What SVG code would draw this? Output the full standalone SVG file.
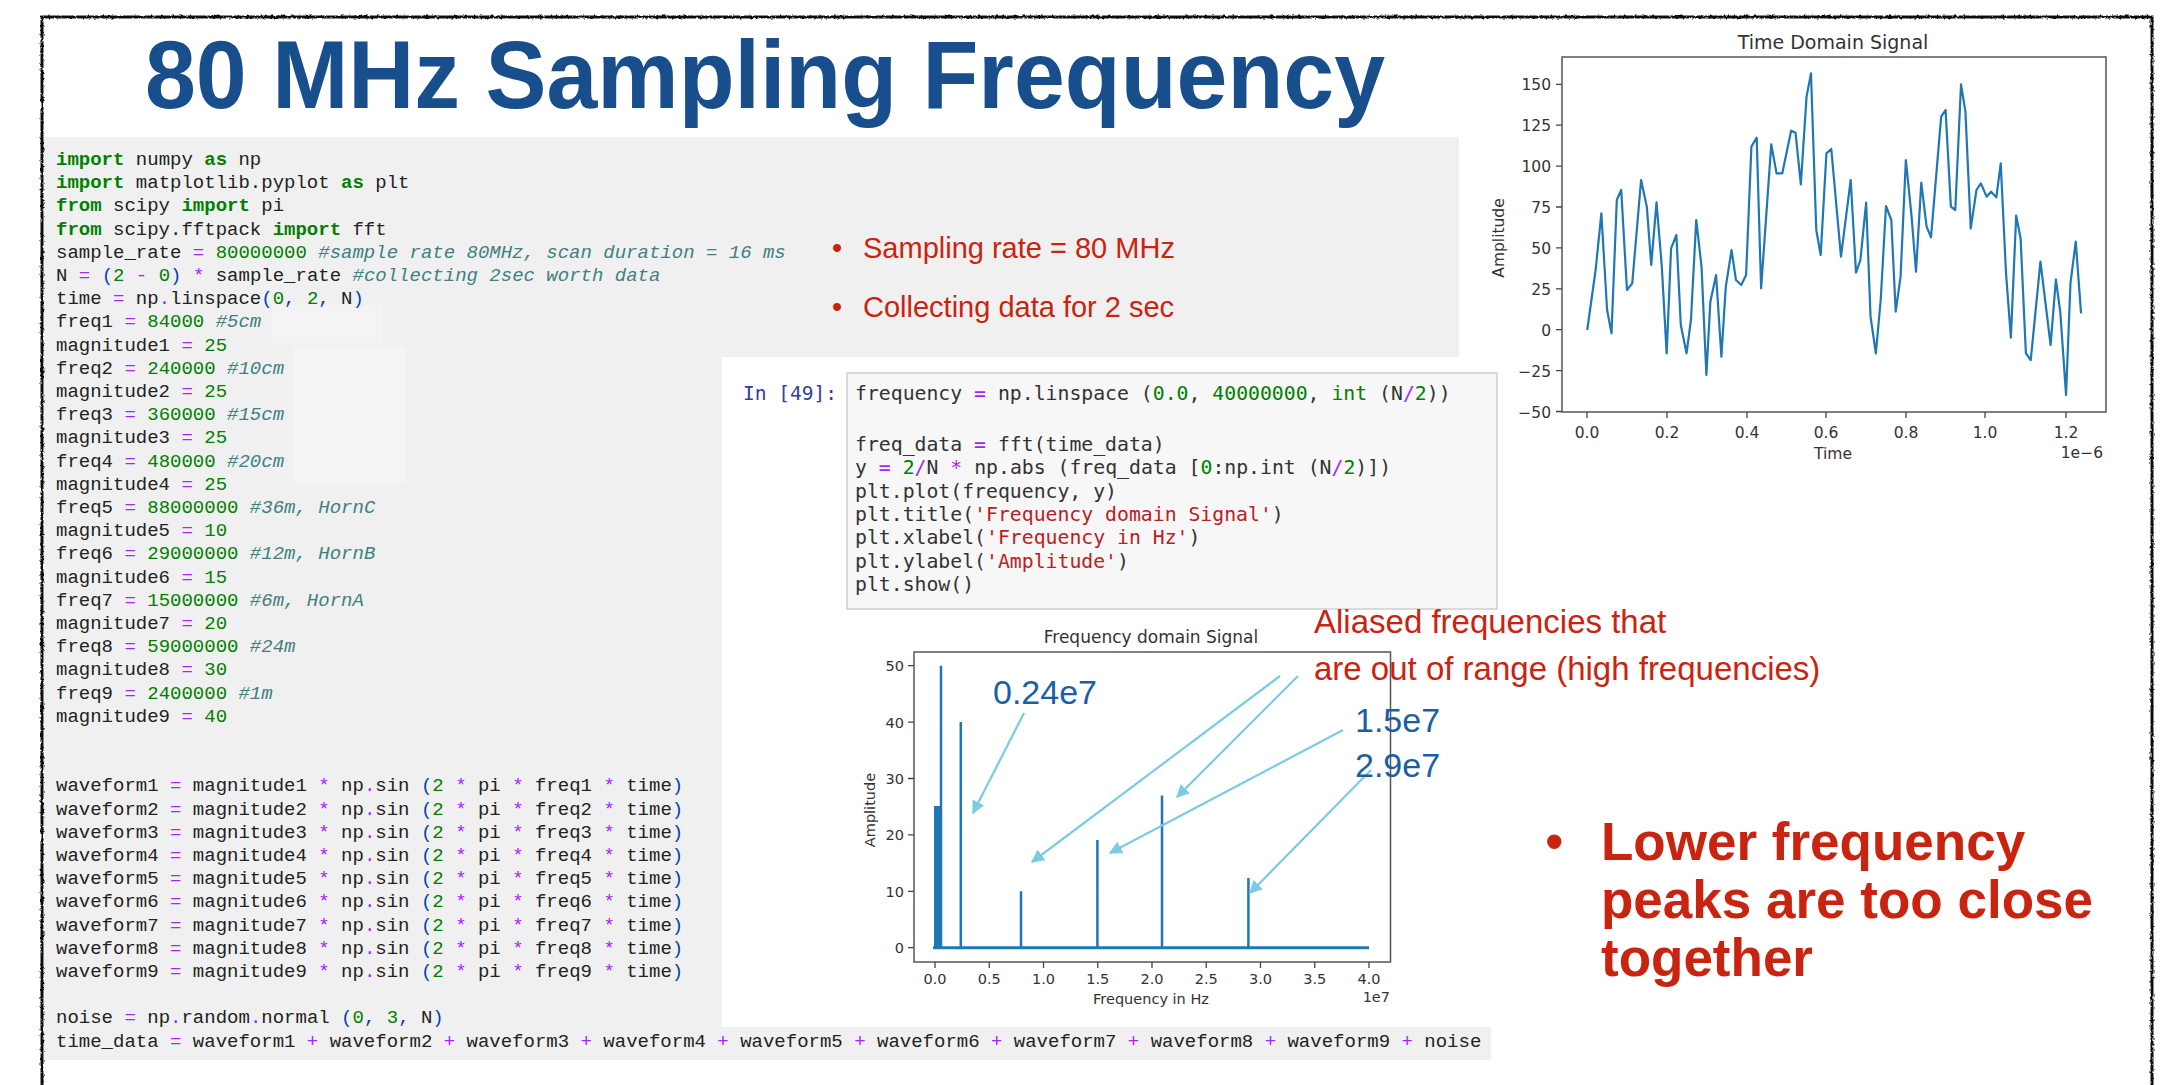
<svg xmlns="http://www.w3.org/2000/svg" width="2172" height="1085" viewBox="0 0 2172 1085">
<defs>
<style>
.code{font-family:"Liberation Mono","DejaVu Sans Mono",monospace;font-size:19px;fill:#222}
.kw{fill:#008000;font-weight:bold}
.op{fill:#aa22ff}
.num{fill:#008000}
.cm{fill:#408080;font-style:italic}
.br{fill:#0044aa}
.jc{font-family:"DejaVu Sans Mono",monospace;font-size:19.8px;fill:#333}
.str{fill:#ba2121}
.mpl{font-family:"DejaVu Sans",sans-serif;fill:#333}
.tk{stroke:#444;stroke-width:1.3}
.ax{fill:none;stroke:#555;stroke-width:1.5}
.red{font-family:"Liberation Sans",Arial,sans-serif;fill:#c9240f}
.blue{font-family:"Liberation Sans",Arial,sans-serif;fill:#1a5fa6;font-size:34px}
.spk{stroke:#1f77b4;stroke-width:2.5}
.arr{stroke:#7ccbe3;stroke-width:2.2;fill:none;marker-end:url(#ah)}
</style>
<marker id="ah" viewBox="0 0 10 10" refX="9" refY="5" markerWidth="6" markerHeight="6" orient="auto"><path d="M0,0 L10,5 L0,10 z" fill="#7ccbe3"/></marker>
<filter id="rough" x="-2%" y="-2%" width="104%" height="104%"><feTurbulence type="fractalNoise" baseFrequency="0.35" numOctaves="2" seed="3"/><feDisplacementMap in="SourceGraphic" scale="3"/></filter>
</defs>
<rect width="2172" height="1085" fill="#fff"/>

<g id="code-main">
<path d="M44,137 H1459 V357 H722 V1027 H1491 V1060 H44 Z" fill="#f0f0f0"/>
<rect x="272" y="305" width="111" height="38" fill="#f4f4f7"/>
<rect x="293" y="347" width="112" height="136" fill="#f4f4f7"/>
<g class="code" xml:space="preserve">
<text x="56" y="165"><tspan class="kw">import</tspan> numpy <tspan class="kw">as</tspan> np</text>
<text x="56" y="188.2"><tspan class="kw">import</tspan> matplotlib.pyplot <tspan class="kw">as</tspan> plt</text>
<text x="56" y="211.4"><tspan class="kw">from</tspan> scipy <tspan class="kw">import</tspan> pi</text>
<text x="56" y="234.6"><tspan class="kw">from</tspan> scipy.fftpack <tspan class="kw">import</tspan> fft</text>
<text x="56" y="257.8">sample_rate <tspan class="op">=</tspan> <tspan class="num">80000000</tspan> <tspan class="cm">#sample rate 80MHz, scan duration = 16 ms</tspan></text>
<text x="56" y="281">N <tspan class="op">=</tspan> <tspan class="br">(</tspan><tspan class="num">2</tspan> <tspan class="op">-</tspan> <tspan class="num">0</tspan><tspan class="br">)</tspan> <tspan class="op">*</tspan> sample_rate <tspan class="cm">#collecting 2sec worth data</tspan></text>
<text x="56" y="304.2">time <tspan class="op">=</tspan> np<tspan class="op">.</tspan>linspace<tspan class="br">(</tspan><tspan class="num">0</tspan><tspan class="br">,</tspan> <tspan class="num">2</tspan><tspan class="br">,</tspan> N<tspan class="br">)</tspan></text>
<text x="56" y="327.4">freq1 <tspan class="op">=</tspan> <tspan class="num">84000</tspan> <tspan class="cm">#5cm</tspan></text>
<text x="56" y="350.6">magnitude1 <tspan class="op">=</tspan> <tspan class="num">25</tspan></text>
<text x="56" y="373.8">freq2 <tspan class="op">=</tspan> <tspan class="num">240000</tspan> <tspan class="cm">#10cm</tspan></text>
<text x="56" y="397">magnitude2 <tspan class="op">=</tspan> <tspan class="num">25</tspan></text>
<text x="56" y="420.2">freq3 <tspan class="op">=</tspan> <tspan class="num">360000</tspan> <tspan class="cm">#15cm</tspan></text>
<text x="56" y="443.4">magnitude3 <tspan class="op">=</tspan> <tspan class="num">25</tspan></text>
<text x="56" y="466.6">freq4 <tspan class="op">=</tspan> <tspan class="num">480000</tspan> <tspan class="cm">#20cm</tspan></text>
<text x="56" y="489.8">magnitude4 <tspan class="op">=</tspan> <tspan class="num">25</tspan></text>
<text x="56" y="513">freq5 <tspan class="op">=</tspan> <tspan class="num">88000000</tspan> <tspan class="cm">#36m, HornC</tspan></text>
<text x="56" y="536.2">magnitude5 <tspan class="op">=</tspan> <tspan class="num">10</tspan></text>
<text x="56" y="559.4">freq6 <tspan class="op">=</tspan> <tspan class="num">29000000</tspan> <tspan class="cm">#12m, HornB</tspan></text>
<text x="56" y="582.6">magnitude6 <tspan class="op">=</tspan> <tspan class="num">15</tspan></text>
<text x="56" y="605.8">freq7 <tspan class="op">=</tspan> <tspan class="num">15000000</tspan> <tspan class="cm">#6m, HornA</tspan></text>
<text x="56" y="629">magnitude7 <tspan class="op">=</tspan> <tspan class="num">20</tspan></text>
<text x="56" y="652.2">freq8 <tspan class="op">=</tspan> <tspan class="num">59000000</tspan> <tspan class="cm">#24m</tspan></text>
<text x="56" y="675.4">magnitude8 <tspan class="op">=</tspan> <tspan class="num">30</tspan></text>
<text x="56" y="698.6">freq9 <tspan class="op">=</tspan> <tspan class="num">2400000</tspan> <tspan class="cm">#1m</tspan></text>
<text x="56" y="721.8">magnitude9 <tspan class="op">=</tspan> <tspan class="num">40</tspan></text>
<text x="56" y="791.4">waveform1 <tspan class="op">=</tspan> magnitude1 <tspan class="op">*</tspan> np<tspan class="op">.</tspan>sin <tspan class="br">(</tspan><tspan class="num">2</tspan> <tspan class="op">*</tspan> pi <tspan class="op">*</tspan> freq1 <tspan class="op">*</tspan> time<tspan class="br">)</tspan></text>
<text x="56" y="814.6">waveform2 <tspan class="op">=</tspan> magnitude2 <tspan class="op">*</tspan> np<tspan class="op">.</tspan>sin <tspan class="br">(</tspan><tspan class="num">2</tspan> <tspan class="op">*</tspan> pi <tspan class="op">*</tspan> freq2 <tspan class="op">*</tspan> time<tspan class="br">)</tspan></text>
<text x="56" y="837.8">waveform3 <tspan class="op">=</tspan> magnitude3 <tspan class="op">*</tspan> np<tspan class="op">.</tspan>sin <tspan class="br">(</tspan><tspan class="num">2</tspan> <tspan class="op">*</tspan> pi <tspan class="op">*</tspan> freq3 <tspan class="op">*</tspan> time<tspan class="br">)</tspan></text>
<text x="56" y="861">waveform4 <tspan class="op">=</tspan> magnitude4 <tspan class="op">*</tspan> np<tspan class="op">.</tspan>sin <tspan class="br">(</tspan><tspan class="num">2</tspan> <tspan class="op">*</tspan> pi <tspan class="op">*</tspan> freq4 <tspan class="op">*</tspan> time<tspan class="br">)</tspan></text>
<text x="56" y="884.2">waveform5 <tspan class="op">=</tspan> magnitude5 <tspan class="op">*</tspan> np<tspan class="op">.</tspan>sin <tspan class="br">(</tspan><tspan class="num">2</tspan> <tspan class="op">*</tspan> pi <tspan class="op">*</tspan> freq5 <tspan class="op">*</tspan> time<tspan class="br">)</tspan></text>
<text x="56" y="907.4">waveform6 <tspan class="op">=</tspan> magnitude6 <tspan class="op">*</tspan> np<tspan class="op">.</tspan>sin <tspan class="br">(</tspan><tspan class="num">2</tspan> <tspan class="op">*</tspan> pi <tspan class="op">*</tspan> freq6 <tspan class="op">*</tspan> time<tspan class="br">)</tspan></text>
<text x="56" y="930.6">waveform7 <tspan class="op">=</tspan> magnitude7 <tspan class="op">*</tspan> np<tspan class="op">.</tspan>sin <tspan class="br">(</tspan><tspan class="num">2</tspan> <tspan class="op">*</tspan> pi <tspan class="op">*</tspan> freq7 <tspan class="op">*</tspan> time<tspan class="br">)</tspan></text>
<text x="56" y="953.8">waveform8 <tspan class="op">=</tspan> magnitude8 <tspan class="op">*</tspan> np<tspan class="op">.</tspan>sin <tspan class="br">(</tspan><tspan class="num">2</tspan> <tspan class="op">*</tspan> pi <tspan class="op">*</tspan> freq8 <tspan class="op">*</tspan> time<tspan class="br">)</tspan></text>
<text x="56" y="977">waveform9 <tspan class="op">=</tspan> magnitude9 <tspan class="op">*</tspan> np<tspan class="op">.</tspan>sin <tspan class="br">(</tspan><tspan class="num">2</tspan> <tspan class="op">*</tspan> pi <tspan class="op">*</tspan> freq9 <tspan class="op">*</tspan> time<tspan class="br">)</tspan></text>
<text x="56" y="1023.4">noise <tspan class="op">=</tspan> np<tspan class="op">.</tspan>random<tspan class="op">.</tspan>normal <tspan class="br">(</tspan><tspan class="num">0</tspan><tspan class="br">,</tspan> <tspan class="num">3</tspan><tspan class="br">,</tspan> N<tspan class="br">)</tspan></text>
<text x="56" y="1046.6">time_data <tspan class="op">=</tspan> waveform1 <tspan class="op">+</tspan> waveform2 <tspan class="op">+</tspan> waveform3 <tspan class="op">+</tspan> waveform4 <tspan class="op">+</tspan> waveform5 <tspan class="op">+</tspan> waveform6 <tspan class="op">+</tspan> waveform7 <tspan class="op">+</tspan> waveform8 <tspan class="op">+</tspan> waveform9 <tspan class="op">+</tspan> noise</text>
</g>
</g>

<g id="title">
<text x="145" y="108" font-family="'Liberation Sans',Arial,sans-serif" font-weight="bold" font-size="97" fill="#174e8b" textLength="1240" lengthAdjust="spacingAndGlyphs">80 MHz Sampling Frequency</text>
</g>

<g id="bullets-sampling" class="red" font-size="29">
<text x="832" y="258">•</text>
<text x="863" y="258">Sampling rate = 80 MHz</text>
<text x="832" y="317">•</text>
<text x="863" y="317">Collecting data for 2 sec</text>
</g>

<g id="code-cell">
<text x="743" y="400" font-family="'DejaVu Sans Mono',monospace" font-size="19.5" fill="#303f9f">In [49]:</text>
<rect x="847" y="373" width="650" height="236" fill="#f7f7f7" stroke="#cfcfcf" stroke-width="1.5"/>
<g class="jc" xml:space="preserve">
<text x="855" y="400">frequency <tspan class="op">=</tspan> np.linspace (<tspan class="num">0.0</tspan>, <tspan class="num">40000000</tspan>, <tspan class="num">int</tspan> (N<tspan class="op">/</tspan><tspan class="num">2</tspan>))</text>
<text x="855" y="451">freq_data <tspan class="op">=</tspan> fft(time_data)</text>
<text x="855" y="474.3">y <tspan class="op">=</tspan> <tspan class="num">2</tspan><tspan class="op">/</tspan>N <tspan class="op">*</tspan> np.abs (freq_data [<tspan class="num">0</tspan>:np.int (N<tspan class="op">/</tspan><tspan class="num">2</tspan>)])</text>
<text x="855" y="497.6">plt.plot(frequency, y)</text>
<text x="855" y="521">plt.title(<tspan class="str">'Frequency domain Signal'</tspan>)</text>
<text x="855" y="544.3">plt.xlabel(<tspan class="str">'Frequency in Hz'</tspan>)</text>
<text x="855" y="567.6">plt.ylabel(<tspan class="str">'Amplitude'</tspan>)</text>
<text x="855" y="591">plt.show()</text>
</g>
</g>

<g id="time-plot">
<text class="mpl" x="1833" y="49" font-size="19" text-anchor="middle">Time Domain Signal</text>
<rect class="ax" x="1562" y="57" width="544" height="355"/>
<g class="tk">
<path d="M1556,84.3H1562M1556,125.2H1562M1556,166.1H1562M1556,207H1562M1556,247.9H1562M1556,288.8H1562M1556,329.7H1562M1556,370.6H1562M1556,411.5H1562"/>
<path d="M1587,412V418M1667,412V418M1747,412V418M1826,412V418M1906,412V418M1985,412V418M2066,412V418"/>
</g>
<g class="mpl" font-size="15.5" text-anchor="end">
<text x="1551" y="90">150</text>
<text x="1551" y="131">125</text>
<text x="1551" y="172">100</text>
<text x="1551" y="213">75</text>
<text x="1551" y="254">50</text>
<text x="1551" y="295">25</text>
<text x="1551" y="335.5">0</text>
<text x="1551" y="376.5">−25</text>
<text x="1551" y="417.5">−50</text>
</g>
<g class="mpl" font-size="15.5" text-anchor="middle">
<text x="1587" y="438">0.0</text>
<text x="1667" y="438">0.2</text>
<text x="1747" y="438">0.4</text>
<text x="1826" y="438">0.6</text>
<text x="1906" y="438">0.8</text>
<text x="1985" y="438">1.0</text>
<text x="2066" y="438">1.2</text>
<text x="1833" y="459">Time</text>
</g>
<text class="mpl" x="2103" y="458" font-size="15.5" text-anchor="end">1e−6</text>
<text class="mpl" transform="translate(1504,238) rotate(-90)" font-size="15.5" text-anchor="middle">Amplitude</text>
<path transform="translate(1480,0) scale(0.4413,0.33333)" vector-effect="non-scaling-stroke" fill="none" stroke="#1f77b4" stroke-width="2.2" stroke-linejoin="round" d="M243,990 L262,810 275,640 288,930 298,1000 310,600 320,570 333,870 345,850 365,540 378,620 388,795 400,607 412,800 423,1060 433,745 445,705 455,975 468,1060 478,960 490,660 502,800 513,1125 522,905 535,825 547,1070 557,860 570,750 580,840 592,855 603,825 615,440 627,413 637,865 660,433 672,520 685,520 705,392 715,398 727,553 740,290 750,220 762,690 772,765 785,460 796,447 818,770 840,540 852,818 862,780 875,608 885,950 897,1060 908,900 920,618 932,660 942,935 953,830 965,480 978,650 988,815 1000,548 1012,680 1022,712 1045,350 1055,330 1067,620 1077,630 1090,253 1100,335 1112,685 1125,570 1135,550 1148,590 1158,575 1170,592 1180,490 1192,820 1203,1013 1215,647 1225,715 1237,1060 1248,1080 1270,785 1293,1035 1305,838 1315,937 1328,1185 1338,850 1350,725 1362,940"/>
</g>

<g id="freq-plot">
<text class="mpl" x="1151" y="643" font-size="17" text-anchor="middle">Frequency domain Signal</text>
<rect class="ax" x="914" y="652" width="476.5" height="310"/>
<g class="tk">
<path d="M908,665.7H914M908,722.1H914M908,778.5H914M908,834.9H914M908,891.3H914M908,947.7H914"/>
<path d="M935,962V968M989.25,962V968M1043.5,962V968M1097.75,962V968M1152,962V968M1206.25,962V968M1260.5,962V968M1314.75,962V968M1369,962V968"/>
</g>
<g class="mpl" font-size="14.5" text-anchor="end">
<text x="904" y="671">50</text>
<text x="904" y="727.5">40</text>
<text x="904" y="784">30</text>
<text x="904" y="840">20</text>
<text x="904" y="896.5">10</text>
<text x="904" y="953">0</text>
</g>
<g class="mpl" font-size="14.5" text-anchor="middle">
<text x="935" y="984">0.0</text>
<text x="989.25" y="984">0.5</text>
<text x="1043.5" y="984">1.0</text>
<text x="1097.75" y="984">1.5</text>
<text x="1152" y="984">2.0</text>
<text x="1206.25" y="984">2.5</text>
<text x="1260.5" y="984">3.0</text>
<text x="1314.75" y="984">3.5</text>
<text x="1369" y="984">4.0</text>
<text x="1151" y="1004">Frequency in Hz</text>
</g>
<text class="mpl" x="1390" y="1002" font-size="14.5" text-anchor="end">1e7</text>
<text class="mpl" transform="translate(875,810) rotate(-90)" font-size="14.5" text-anchor="middle">Amplitude</text>
<rect x="934" y="806" width="7" height="142" fill="#1f77b4"/>
<path class="spk" d="M941,947.7V665.7M960.8,947.7V722.1M1021,947.7V891.3M1097.4,947.7V840M1162,947.7V795.4M1248.4,947.7V878"/>
<path d="M933,947.7H1369" stroke="#1f77b4" stroke-width="3"/>
</g>

<g id="arrows">
<path class="arr" d="M1024,713 L973,813"/>
<path class="arr" d="M1280,676 L1032,862"/>
<path class="arr" d="M1298,676 L1177,797"/>
<path class="arr" d="M1343,730 L1110,853"/>
<path class="arr" d="M1371,770 L1250,893"/>
</g>

<g id="peak-labels" class="blue">
<text x="993" y="704">0.24e7</text>
<text x="1355" y="732">1.5e7</text>
<text x="1355" y="777">2.9e7</text>
</g>

<g id="alias-note" class="red" font-size="33">
<text x="1314" y="633">Aliased frequencies that</text>
<text x="1314" y="680">are out of range (high frequencies)</text>
</g>

<g id="lower-note" class="red" font-size="53" font-weight="bold">
<text x="1545" y="860" font-weight="normal">•</text>
<text x="1601" y="860">Lower frequency</text>
<text x="1601" y="918">peaks are too close</text>
<text x="1601" y="976">together</text>
</g>

<g id="frame">
<rect x="42" y="17" width="2110" height="1100" fill="none" stroke="#111" stroke-width="3" filter="url(#rough)"/>
</g>
</svg>
